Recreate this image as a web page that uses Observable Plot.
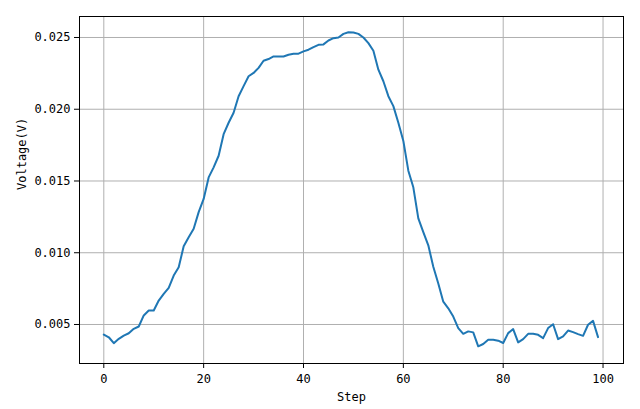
<!DOCTYPE html>
<html>
<head>
<meta charset="utf-8">
<script src="https://cdn.jsdelivr.net/npm/d3@7"></script>
<script src="https://cdn.jsdelivr.net/npm/@observablehq/plot@0.6"></script>
<style>
  html, body { margin: 0; padding: 0; background: #fff; }
  #chart svg { display: block; }
</style>
</head>
<body>
<div id="chart"></div>
<script>
const steps = d3.range(0, 100);
const voltage = [
  0.00430, 0.00411, 0.00370, 0.00400, 0.00423, 0.00439, 0.00470, 0.00486, 0.00563, 0.00598,
  0.00598, 0.00667, 0.00714, 0.00755, 0.00841, 0.00899, 0.01045, 0.01108, 0.01167, 0.01283,
  0.01375, 0.01525, 0.01595, 0.01676, 0.01826, 0.01906, 0.01976, 0.02091, 0.02161, 0.02230,
  0.02253, 0.02288, 0.02338, 0.02350, 0.02368, 0.02368, 0.02368, 0.02380, 0.02387, 0.02387,
  0.02403, 0.02415, 0.02433, 0.02449, 0.02452, 0.02479, 0.02495, 0.02500, 0.02525, 0.02537,
  0.02535, 0.02525, 0.02500, 0.02461, 0.02408, 0.02276, 0.02195, 0.02091, 0.02022, 0.01906,
  0.01779, 0.01572, 0.01456, 0.01240, 0.01144, 0.01052, 0.00902, 0.00786, 0.00659, 0.00613,
  0.00555, 0.00475, 0.00435, 0.00452, 0.00445, 0.00348, 0.00364, 0.00394, 0.00394, 0.00387,
  0.00371, 0.00440, 0.00468, 0.00375, 0.00398, 0.00435, 0.00435, 0.00428, 0.00405, 0.00475,
  0.00502, 0.00398, 0.00417, 0.00458, 0.00447, 0.00433, 0.00421, 0.00498, 0.00525, 0.00412
];
const xTicks = [0, 20, 40, 60, 80, 100];
const yTicks = [0.005, 0.010, 0.015, 0.020, 0.025];
const xLabel = "Step";
const yLabel = "Voltage(V)";

const data = steps.map((s, i) => ({step: s, v: voltage[i]}));

const font = "'DejaVu Sans Mono', monospace";

const chart = Plot.plot({
  width: 640,
  height: 409,
  marginLeft: 79,
  marginRight: 17,
  marginTop: 16,
  marginBottom: 46,
  style: {fontFamily: font, fontSize: "12px", color: "#000", background: "#fff"},
  x: {domain: [-4.87, 104.1]},
  y: {domain: [0.002282, 0.026463]},
  marks: [
    Plot.gridX(xTicks, {stroke: "#b0b0b0", strokeOpacity: 1, strokeWidth: 1}),
    Plot.gridY(yTicks, {stroke: "#b0b0b0", strokeOpacity: 1, strokeWidth: 1}),
    Plot.line(data, {x: "step", y: "v", stroke: "#1f77b4", strokeWidth: 2}),
    Plot.frame({stroke: "#000", strokeWidth: 1}),
    Plot.axisX(xTicks, {tickSize: 5, tickPadding: 6, fontSize: 12, label: null, tickFormat: d => String(d)}),
    Plot.axisY(yTicks, {tickSize: 5, tickPadding: 4, fontSize: 12, label: null, tickFormat: d3.format(".3f")}),
    Plot.text([xLabel], {frameAnchor: "bottom", dy: 37, fontSize: 12, text: d => d}),
    Plot.text([yLabel], {frameAnchor: "left", dx: -57, rotate: -90, fontSize: 12, text: d => d})
  ]
});
document.getElementById("chart").appendChild(chart);
</script>
</body>
</html>
